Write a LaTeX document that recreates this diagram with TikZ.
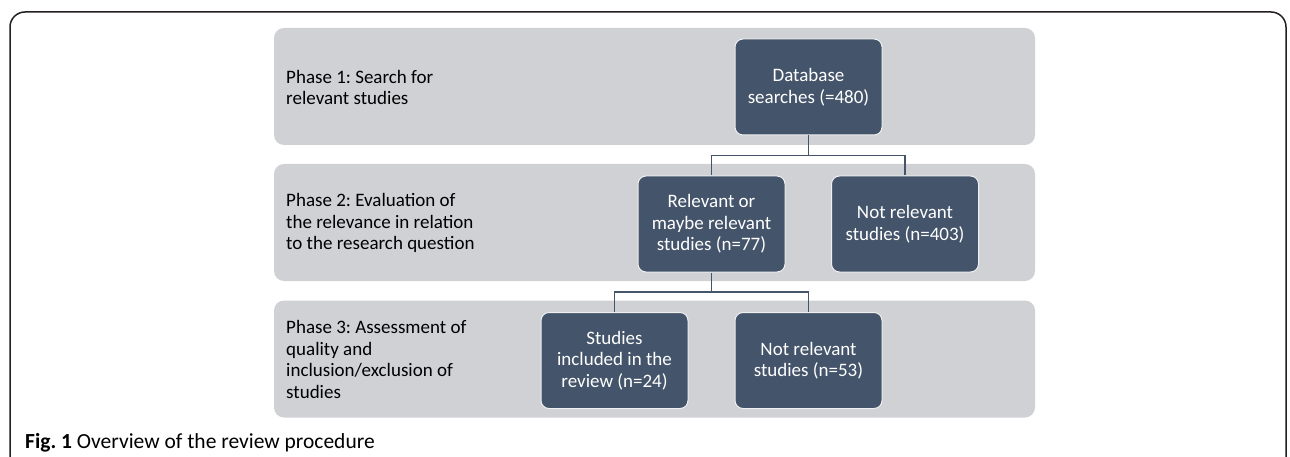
\documentclass[tikz,border=0pt]{standalone}
\usepackage{fontspec}
\setmainfont{Carlito}
\usetikzlibrary{positioning}
\definecolor{boxBlue}{RGB}{68,84,106}
\definecolor{bandGray}{RGB}{208,209,213}
\definecolor{frameGray}{RGB}{35,31,32}
\frenchspacing

\begin{document}
\begin{tikzpicture}[x=1pt,y=-1pt,
  band/.style={fill=bandGray, rounded corners=10pt, minimum width=761pt, minimum height=117pt, inner sep=0pt},
  stepbox/.style={fill=boxBlue, draw=white!88!gray, line width=1pt, rounded corners=8pt,
    minimum width=147pt, minimum height=96pt, inner sep=2pt, text=white, align=center,
    font=\fontsize{19}{21.5}\selectfont},
  phase/.style={anchor=west, align=left, inner sep=0pt, font=\fontsize{19}{21.5}\selectfont},
  link/.style={draw=boxBlue, line width=1.3pt}]

\useasboundingbox (0,0) rectangle (1290,457);

% Frame round the figure
\draw[frameGray, line width=1.5pt, rounded corners=15pt] (10,470) -- (10,12) -- (1286,12) -- (1286,470);

% Phase bands
\node[band] (band1) at (654.5,86.5) {};
\node[band] (band2) at (654.5,222.5) {};
\node[band] (band3) at (654.5,359) {};

% Phase labels
\node[phase] (phase1) at (286,87.5) {Phase 1: Search for\\relevant studies};
\node[phase] (phase2) at (286,223) {Phase 2: Evaluation of\\the relevance in relation\\to the research question};
\node[phase] (phase3) at (286,359.5) {Phase 3: Assessment of\\quality and\\inclusion/exclusion of\\studies};

% Study boxes
\node[stepbox] (db) at (808.5,87) {Database\\searches (=480)};
\node[stepbox] (rel) at (711.5,224) {Relevant or\\maybe relevant\\studies (n=77)};
\node[stepbox] (nrA) at (905,224) {Not relevant\\studies (n=403)};
\node[stepbox] (inc) at (614.5,360.5) {Studies\\included in the\\review (n=24)};
\node[stepbox] (nrB) at (808.5,360.5) {Not relevant\\studies (n=53)};

% Connectors
\coordinate (splitA) at (808.5,155.5);
\coordinate (splitB) at (711.5,292);
\draw[link] (db.south) -- (splitA);
\draw[link] (splitA) -| (rel.north);
\draw[link] (splitA) -| (nrA.north);
\draw[link] (rel.south) -- (splitB);
\draw[link] (splitB) -| (inc.north);
\draw[link] (splitB) -| (nrB.north);

% Caption
\node[anchor=base west, inner sep=0pt, font=\fontsize{21.5}{25}\selectfont] (caption) at (25,448)
  {\textbf{Fig. 1} Overview of the review procedure};

\end{tikzpicture}
\end{document}
